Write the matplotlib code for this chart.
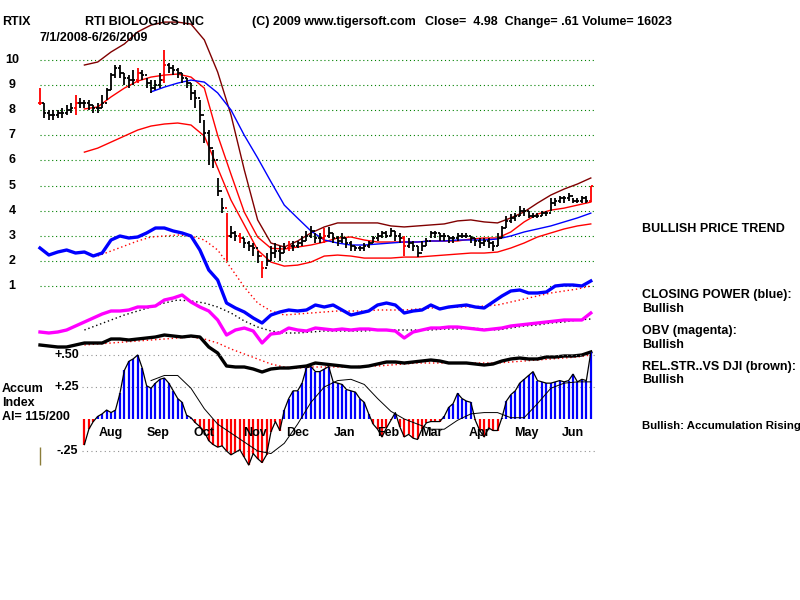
import numpy as np
import matplotlib.pyplot as plt

nan = np.nan

# price bars, one every second trading day from 7/1/2008
bar_day = np.arange(0, 249, 2)
close = [8.3, 7.9, 7.8, 7.8, 7.9, 7.9, 8.0, 8.1, 8.3, 8.3,
         8.3, 8.2, 8.1, 8.1, 8.3, 8.8, 9.4, 9.7, 9.5, 9.3,
         9.2, 9.2, 9.5, 9.4, 9.1, 8.9, 9.0, 9.2, 9.8, 9.7,
         9.6, 9.5, 9.3, 9.1, 8.7, 8.5, 7.8, 7.1, 6.5, 6.0,
         4.8, 4.1, 3.0, 3.1, 3.0, 2.9, 2.7, 2.6, 2.5, 2.2,
         1.7, 2.0, 2.3, 2.4, 2.3, 2.5, 2.6, 2.6, 2.7, 2.8,
         3.0, 3.2, 2.9, 2.9, 3.0, 3.1, 2.9, 2.8, 2.9, 2.7,
         2.6, 2.5, 2.5, 2.6, 2.7, 2.9, 3.0, 3.1, 3.0, 3.2,
         3.0, 2.9, 2.6, 2.7, 2.6, 2.3, 2.6, 2.8, 3.1, 3.1,
         3.0, 3.0, 2.9, 2.9, 3.0, 3.0, 3.0, 2.9, 2.8, 2.7,
         2.8, 2.7, 2.6, 2.9, 3.3, 3.6, 3.7, 3.8, 4.0, 4.0,
         3.8, 3.8, 3.8, 3.9, 3.9, 4.3, 4.4, 4.5, 4.5, 4.6,
         4.4, 4.4, 4.5, 4.4, 4.98]
high = [8.9, 8.3, 8.0, 8.0, 8.0, 8.1, 8.2, 8.3, 8.6, 8.5,
        8.4, 8.4, 8.2, 8.3, 8.6, 8.9, 9.5, 9.8, 9.8, 9.5,
        9.4, 9.6, 9.7, 9.6, 9.3, 9.2, 9.2, 9.5, 10.4, 9.9,
        9.8, 9.7, 9.5, 9.3, 9.1, 8.8, 8.4, 7.6, 7.2, 6.4,
        5.3, 4.5, 3.9, 3.4, 3.2, 3.1, 2.9, 2.8, 2.7, 2.4,
        2.0, 2.3, 2.6, 2.7, 2.6, 2.7, 2.8, 2.8, 2.8, 3.0,
        3.2, 3.4, 3.1, 3.1, 3.3, 3.35, 3.1, 3.0, 3.1, 2.9,
        2.8, 2.6, 2.6, 2.7, 2.8, 3.0, 3.1, 3.2, 3.2, 3.3,
        3.2, 3.1, 3.0, 2.9, 2.8, 2.6, 2.8, 2.9, 3.2, 3.2,
        3.1, 3.1, 3.0, 3.0, 3.1, 3.1, 3.1, 3.0, 2.9, 2.9,
        2.9, 2.9, 2.8, 3.1, 3.4, 3.8, 3.85, 3.9, 4.2, 4.1,
        4.0, 3.9, 3.9, 4.0, 4.0, 4.5, 4.5, 4.6, 4.6, 4.7,
        4.5, 4.5, 4.6, 4.6, 5.0]
low = [8.2, 7.7, 7.6, 7.6, 7.7, 7.7, 7.8, 7.9, 7.8, 8.1,
       8.1, 8.0, 7.9, 7.9, 8.1, 8.4, 8.8, 9.3, 9.3, 9.0,
       8.9, 9.0, 9.1, 9.2, 8.9, 8.7, 8.8, 8.9, 9.1, 9.5,
       9.4, 9.3, 9.1, 8.9, 8.4, 8.1, 7.5, 6.7, 5.8, 5.7,
       4.6, 3.9, 2.0, 2.9, 2.8, 2.7, 2.5, 2.4, 2.2, 1.9,
       1.3, 1.8, 2.0, 2.1, 2.0, 2.3, 2.4, 2.4, 2.5, 2.6,
       2.8, 2.9, 2.7, 2.7, 2.7, 2.9, 2.7, 2.6, 2.7, 2.5,
       2.4, 2.4, 2.4, 2.4, 2.5, 2.7, 2.8, 2.9, 2.9, 3.0,
       2.8, 2.7, 2.2, 2.5, 2.4, 2.15, 2.4, 2.6, 2.9, 2.9,
       2.8, 2.8, 2.7, 2.7, 2.8, 2.9, 2.9, 2.7, 2.6, 2.5,
       2.6, 2.5, 2.4, 2.6, 2.9, 3.3, 3.5, 3.6, 3.8, 3.8,
       3.7, 3.7, 3.7, 3.8, 3.8, 4.0, 4.2, 4.3, 4.3, 4.4,
       4.3, 4.3, 4.3, 4.3, 4.35]
red_bars = [0, 8, 22, 28, 42, 45, 50, 56, 64, 82, 124]

# bands and moving averages, every 6th day
band_day = np.arange(2, 250, 6)
upper_band = [nan] * 3 + [9.80, 9.92, 10.32, 10.64, 11.12, 11.39, 11.51, 11.51, 11.43, 10.80,
                          9.52, 7.81, 5.62, 3.63, 2.71, 2.55, 2.79, 3.11, 3.35, 3.51,
                          3.51, 3.51, 3.51, 3.39, 3.35, 3.39, 3.43, 3.47, 3.59, 3.63,
                          3.55, 3.51, 3.71, 3.95, 4.30, 4.62, 4.86, 5.06, 5.30]
mid_ma = [nan] * 3 + [8.05, 8.13, 8.53, 8.88, 9.16, 9.32, 9.40, 9.44, 9.32, 8.88,
                      7.0, 5.45, 3.94, 2.95, 2.5, 2.47, 2.55, 2.63, 2.75, 2.91,
                      2.95, 2.83, 2.75, 2.75, 2.75, 2.75, 2.79, 2.79, 2.79, 2.87,
                      2.91, 2.91, 3.15, 3.55, 3.86, 4.02, 4.10, 4.22, 4.34]
lower_band = [nan] * 3 + [6.33, 6.49, 6.73, 6.97, 7.21, 7.37, 7.45, 7.49, 7.41, 6.97,
                          5.70, 4.42, 3.43, 2.43, 1.95, 1.79, 1.83, 1.95, 2.19, 2.23,
                          2.19, 2.11, 2.11, 2.11, 2.15, 2.15, 2.19, 2.23, 2.27, 2.31,
                          2.31, 2.35, 2.51, 2.71, 2.95, 3.11, 3.27, 3.39, 3.47]
blue_ma = [nan] * 8 + [8.73, 8.92, 9.08, 9.20, 9.12, 8.69, 8.01, 7.0, 6.1, 5.15,
                       4.22, 3.7, 3.19, 2.83, 2.71, 2.63, 2.63, 2.67, 2.71, 2.75,
                       2.75, 2.79, 2.79, 2.83, 2.83, 2.83, 2.87, 2.99, 3.15, 3.27,
                       3.39, 3.55, 3.71, 3.90]

# indicators, every 4th day
ind_day = np.arange(0, 249, 4)
closing_power = [35.2, 34.5, 34.8, 35.0, 34.7, 34.8, 34.4, 34.7, 36.0, 36.4,
                 36.2, 36.3, 36.7, 37.2, 37.2, 36.9, 36.7, 36.4, 35.0, 33.0,
                 32.0, 29.7, 29.2, 28.8, 28.2, 27.7, 28.5, 28.8, 29.0, 28.9,
                 29.0, 29.5, 29.3, 29.5, 29.0, 28.5, 28.7, 28.9, 29.5, 29.7,
                 29.5, 28.7, 28.9, 29.0, 29.5, 29.1, 29.3, 29.4, 29.5, 29.3,
                 29.2, 29.8, 30.4, 30.9, 31.0, 30.7, 30.7, 30.8, 31.4, 31.5,
                 31.5, 31.4, 31.9]
obv = [26.8, 26.7, 26.8, 27.0, 27.4, 27.8, 28.2, 28.6, 28.9, 28.9,
       29.0, 29.3, 29.3, 29.4, 30.0, 30.2, 30.5, 29.8, 29.3, 28.9,
       28.0, 26.5, 27.0, 27.2, 26.9, 25.7, 26.6, 26.7, 27.2, 27.0,
       26.9, 27.2, 27.1, 27.0, 27.1, 27.0, 27.1, 27.1, 27.0, 27.0,
       26.9, 26.2, 26.8, 27.0, 27.2, 27.2, 27.3, 27.3, 27.2, 27.1,
       27.0, 27.1, 27.2, 27.4, 27.5, 27.6, 27.7, 27.8, 27.9, 28.0,
       28.0, 28.0, 28.7]
rel_str = [25.5, 25.4, 25.3, 25.3, 25.5, 25.7, 25.7, 25.7, 26.1, 26.1,
           26.0, 26.1, 26.2, 26.3, 26.5, 26.4, 26.3, 26.4, 26.3, 25.3,
           24.7, 23.4, 23.3, 23.3, 23.1, 22.8, 23.1, 23.2, 23.2, 23.3,
           23.4, 23.7, 23.6, 23.5, 23.4, 23.3, 23.3, 23.4, 23.6, 23.8,
           23.8, 23.7, 23.8, 23.9, 24.0, 23.9, 23.7, 23.7, 23.7, 23.6,
           23.5, 23.6, 23.9, 24.1, 24.2, 24.1, 24.1, 24.3, 24.3, 24.4,
           24.4, 24.5, 24.8]
cp_ma = [nan] * 4 + [34.4, 34.9, 35.4, 35.9, 36.3, 36.4, 36.5, 36.4, 36.0, 35.0,
                     33.2, 31.3, 29.7, 28.9, 28.5, 28.6, 28.7, 28.8, 28.9, 28.9,
                     28.9, 29.0, 29.0, 29.0, 29.1, 29.2, 29.2, 29.3, 29.3, 29.4,
                     29.5, 29.8, 30.1, 30.4, 30.7, 30.9, 31.1, 31.4]
obv_ma = [nan] * 3 + [27.0, 27.5, 28.0, 28.5, 28.9, 29.3, 29.7, 30.0, 29.9, 29.7,
                      29.3, 28.7, 27.9, 27.3, 26.9, 26.7, 26.7, 26.8, 26.9, 26.9,
                      26.9, 26.9, 27.0, 27.0, 27.0, 27.0, 27.0, 27.1, 27.1, 27.2,
                      27.1, 27.0, 27.2, 27.4, 27.5, 27.7, 27.8, 28.0, 28.1]
rs_ma = [nan] * 3 + [25.5, 25.6, 25.7, 25.8, 25.9, 26.0, 26.1, 26.2, 26.3, 26.1,
                     25.7, 25.1, 24.6, 24.1, 23.6, 23.3, 23.2, 23.3, 23.3, 23.3,
                     23.3, 23.4, 23.4, 23.5, 23.6, 23.7, 23.7, 23.7, 23.7, 23.7,
                     23.7, 23.7, 23.8, 23.9, 24.0, 24.1, 24.2, 24.3, 24.5]

# accumulation index, every 2nd day
accum = [nan] * 10 + [-0.20, -0.08, -0.02, 0.02, 0.04, 0.07, 0.05, 0.07, 0.20, 0.38,
                      0.45, 0.47, 0.50, 0.40, 0.26, 0.24, 0.28, 0.31, 0.32, 0.28,
                      0.22, 0.16, 0.13, 0.03, 0.01, -0.03, -0.06, -0.10, -0.17, -0.20,
                      -0.22, -0.21, -0.25, -0.28, -0.26, -0.24, -0.30, -0.36, -0.27, -0.31,
                      -0.34, -0.28, -0.10, -0.02, -0.09, 0.07, 0.16, 0.22, 0.22, 0.28,
                      0.40, 0.41, 0.37, 0.37, 0.39, 0.41, 0.29, 0.28, 0.27, 0.23,
                      0.22, 0.21, 0.16, 0.13, 0.04, -0.04, -0.08, -0.14, -0.07, -0.01,
                      0.05, -0.06, -0.14, -0.12, -0.15, -0.16, -0.08, -0.03, -0.02, -0.02,
                      -0.02, 0.02, 0.09, 0.12, 0.20, 0.16, 0.14, 0.13, -0.01, -0.09,
                      -0.14, -0.07, -0.09, -0.09, 0.01, 0.14, 0.19, 0.22, 0.28, 0.31,
                      0.34, 0.37, 0.30, 0.29, 0.28, 0.28, 0.29, 0.30, 0.29, 0.30,
                      0.35, 0.29, 0.31, 0.30, 0.52]
accum_ma = [nan] * 8 + [0.30, 0.34, 0.34, 0.24, 0.08, -0.04, -0.11, -0.18, -0.25, -0.27,
                        -0.19, -0.04, 0.13, 0.25, 0.30, 0.31, 0.27, 0.16, 0.06, 0.0,
                        -0.04, -0.08, -0.08, -0.01, 0.04, 0.05, 0.05, 0.01, 0.01, 0.12,
                        0.24, 0.28, 0.29, 0.29]

price_levels = [10, 9, 8, 7, 6, 5, 4, 3, 2, 1]
months = ['Aug', 'Sep', 'Oct', 'Nov', 'Dec', 'Jan', 'Feb', 'Mar', 'Apr', 'May', 'Jun']
month_start = [22, 43, 64, 87, 106, 127, 147, 166, 188, 209, 230]
side_notes = [('BULLISH PRICE TREND', 229), ('CLOSING POWER (blue):', 295),
              ('Bullish', 309), ('OBV (magenta):', 331), ('Bullish', 345),
              ('REL.STR..VS DJI (brown):', 367), ('Bullish', 380)]

plt.rcParams['font.family'] = ['Liberation Sans', 'DejaVu Sans']
plt.rcParams['font.weight'] = 'bold'

fig = plt.figure(figsize=(8, 6), dpi=100)
XL = (-18, 342.2)


def layer(name, ylim):
    a = fig.add_axes([0, 0, 1, 1], label=name)
    a.set_xlim(*XL)
    a.set_ylim(*ylim)
    a.patch.set_alpha(0)
    a.axis('off')
    return a


ax = layer('price', (-11.51, 12.39))
ax_ind = layer('ind', (0, 60))
ax_ai = layer('ai', (-1.414, 3.273))


def ftext(x, y, s, size=9, **kw):
    # position in figure pixels
    fig.text(x / 800, 1 - y / 600, s, va='center', fontsize=size, **kw)


# grid
for p in price_levels:
    ax.plot([0, 250], [p, p], color='#008000', lw=0.8, ls=(0, (1, 2.5)))
    ax.text(-12.6, p, str(p), ha='center', va='center', fontsize=9)

# bands
ax.plot(band_day, upper_band, color='#800000', lw=1)
ax.plot(band_day, mid_ma, color='#ff0000', lw=1)
ax.plot(band_day, lower_band, color='#ff0000', lw=1)
ax.plot(band_day, blue_ma, color='#0000ff', lw=1)

# bars
opens = [close[0]] + close[:-1]
for i, d in enumerate(bar_day):
    c = '#ff0000' if i in red_bars else 'black'
    ax.vlines(d, low[i], high[i], color=c, lw=1.3)
    ax.hlines(close[i], d, d + 0.9, color=c, lw=1.3)
    ax.hlines(opens[i], d - 0.9, d, color=c, lw=1.3)

# indicators
ax_ind.plot(band_day, cp_ma, color='#ff0000', lw=1, ls=(0, (1, 2)))
ax_ind.plot(band_day, obv_ma, color='black', lw=1, ls=(0, (1, 2)))
ax_ind.plot(band_day, rs_ma, color='#ff0000', lw=1, ls=(0, (1, 2)))
ax_ind.plot(ind_day, closing_power, color='#0000ff', lw=2.4)
ax_ind.plot(ind_day, obv, color='#ff00ff', lw=2.4)
ax_ind.plot(ind_day, rel_str, color='black', lw=2.4)

# accumulation index
for lv, lab in [(0.5, '+.50'), (0.25, '+.25'), (-0.25, '-.25')]:
    ax_ai.plot([19, 250], [lv, lv], color='#909090', lw=0.8, ls=(0, (1, 3)))
    ax_ai.text(12.2, lv, lab, ha='center', va='center', fontsize=9)
acc = np.array(accum)
ax_ai.vlines(bar_day[acc > 0], 0, acc[acc > 0], color='#0000ff', lw=1.6)
ax_ai.vlines(bar_day[acc < 0], acc[acc < 0], 0, color='#ff0000', lw=1.6)
ax_ai.plot(bar_day, acc, color='black', lw=0.9)
ax_ai.plot(band_day, accum_ma, color='black', lw=0.7)
ax_ai.vlines(0, -0.36, -0.22, color='#8b7d3a', lw=1)
for m, d in zip(months, month_start):
    ax_ai.text(d + 10, -0.11, m, ha='center', va='center', fontsize=9)

# header / labels
ftext(2, 22, 'RTIX')
ftext(85, 22, 'RTI BIOLOGICS INC')
ftext(252, 22, '(C) 2009 www.tigersoft.com')
ftext(425, 22, 'Close=  4.98  Change= .61 Volume= 16023')
ftext(40, 38, '7/1/2008-6/26/2009')
ftext(2, 389, 'Accum')
ftext(2, 403, 'Index')
ftext(2, 417, 'AI= 115/200')
for s, y in side_notes:
    ftext(642, y, s)
ftext(642, 426, 'Bullish: Accumulation Rising', size=8.2)

fig.savefig('out.png', dpi=100)
